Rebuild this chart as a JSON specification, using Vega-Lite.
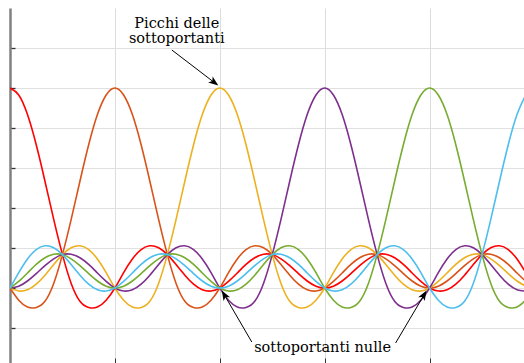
{
  "$schema": "https://vega.github.io/schema/vega-lite/v6.json",
  "width": 514,
  "height": 355,
  "autosize": {"type": "none"},
  "padding": {"left": 10, "top": 8, "right": 0, "bottom": 0},
  "background": "white",
  "config": {"view": {"stroke": null}},
  "datasets": {
    "curves": [
      {"u":0,"s0":1,"s1":0,"s2":0,"s3":0,"s4":0,"s5":0},
      {"u":0.0833,"s0":0.965,"s1":-0.061,"s2":-0.015,"s3":0.009,"s4":0.033,"s5":0.077},
      {"u":0.1667,"s0":0.867,"s1":-0.095,"s2":-0.009,"s3":0.035,"s4":0.075,"s5":0.145},
      {"u":0.25,"s0":0.716,"s1":-0.097,"s2":0.019,"s3":0.072,"s4":0.118,"s5":0.192},
      {"u":0.3333,"s0":0.534,"s1":-0.066,"s2":0.064,"s3":0.112,"s4":0.151,"s5":0.211},
      {"u":0.4167,"s0":0.343,"s1":0.023,"s2":0.117,"s3":0.146,"s4":0.169,"s5":0.201},
      {"u":0.5,"s0":0.167,"s1":0.167,"s2":0.167,"s3":0.167,"s4":0.167,"s5":0.167},
      {"u":0.5833,"s0":0.023,"s1":0.343,"s2":0.201,"s3":0.169,"s4":0.146,"s5":0.117},
      {"u":0.6667,"s0":-0.066,"s1":0.534,"s2":0.211,"s3":0.151,"s4":0.112,"s5":0.064},
      {"u":0.75,"s0":-0.097,"s1":0.716,"s2":0.192,"s3":0.118,"s4":0.072,"s5":0.019},
      {"u":0.8333,"s0":-0.095,"s1":0.867,"s2":0.145,"s3":0.075,"s4":0.035,"s5":-0.009},
      {"u":0.9167,"s0":-0.061,"s1":0.965,"s2":0.077,"s3":0.033,"s4":0.009,"s5":-0.015},
      {"u":1,"s0":0,"s1":1,"s2":0,"s3":0,"s4":0,"s5":0},
      {"u":1.0833,"s0":0.077,"s1":0.965,"s2":-0.061,"s3":-0.015,"s4":0.009,"s5":0.033},
      {"u":1.1667,"s0":0.145,"s1":0.867,"s2":-0.095,"s3":-0.009,"s4":0.035,"s5":0.075},
      {"u":1.25,"s0":0.192,"s1":0.716,"s2":-0.097,"s3":0.019,"s4":0.072,"s5":0.118},
      {"u":1.3333,"s0":0.211,"s1":0.534,"s2":-0.066,"s3":0.064,"s4":0.112,"s5":0.151},
      {"u":1.4167,"s0":0.201,"s1":0.343,"s2":0.023,"s3":0.117,"s4":0.146,"s5":0.169},
      {"u":1.5,"s0":0.167,"s1":0.167,"s2":0.167,"s3":0.167,"s4":0.167,"s5":0.167},
      {"u":1.5833,"s0":0.117,"s1":0.023,"s2":0.343,"s3":0.201,"s4":0.169,"s5":0.146},
      {"u":1.6667,"s0":0.064,"s1":-0.066,"s2":0.534,"s3":0.211,"s4":0.151,"s5":0.112},
      {"u":1.75,"s0":0.019,"s1":-0.097,"s2":0.716,"s3":0.192,"s4":0.118,"s5":0.072},
      {"u":1.8333,"s0":-0.009,"s1":-0.095,"s2":0.867,"s3":0.145,"s4":0.075,"s5":0.035},
      {"u":1.9167,"s0":-0.015,"s1":-0.061,"s2":0.965,"s3":0.077,"s4":0.033,"s5":0.009},
      {"u":2,"s0":0,"s1":0,"s2":1,"s3":0,"s4":0,"s5":0},
      {"u":2.0833,"s0":0.033,"s1":0.077,"s2":0.965,"s3":-0.061,"s4":-0.015,"s5":0.009},
      {"u":2.1667,"s0":0.075,"s1":0.145,"s2":0.867,"s3":-0.095,"s4":-0.009,"s5":0.035},
      {"u":2.25,"s0":0.118,"s1":0.192,"s2":0.716,"s3":-0.097,"s4":0.019,"s5":0.072},
      {"u":2.3333,"s0":0.151,"s1":0.211,"s2":0.534,"s3":-0.066,"s4":0.064,"s5":0.112},
      {"u":2.4167,"s0":0.169,"s1":0.201,"s2":0.343,"s3":0.023,"s4":0.117,"s5":0.146},
      {"u":2.5,"s0":0.167,"s1":0.167,"s2":0.167,"s3":0.167,"s4":0.167,"s5":0.167},
      {"u":2.5833,"s0":0.146,"s1":0.117,"s2":0.023,"s3":0.343,"s4":0.201,"s5":0.169},
      {"u":2.6667,"s0":0.112,"s1":0.064,"s2":-0.066,"s3":0.534,"s4":0.211,"s5":0.151},
      {"u":2.75,"s0":0.072,"s1":0.019,"s2":-0.097,"s3":0.716,"s4":0.192,"s5":0.118},
      {"u":2.8333,"s0":0.035,"s1":-0.009,"s2":-0.095,"s3":0.867,"s4":0.145,"s5":0.075},
      {"u":2.9167,"s0":0.009,"s1":-0.015,"s2":-0.061,"s3":0.965,"s4":0.077,"s5":0.033},
      {"u":3,"s0":0,"s1":0,"s2":0,"s3":1,"s4":0,"s5":0},
      {"u":3.0833,"s0":0.009,"s1":0.033,"s2":0.077,"s3":0.965,"s4":-0.061,"s5":-0.015},
      {"u":3.1667,"s0":0.035,"s1":0.075,"s2":0.145,"s3":0.867,"s4":-0.095,"s5":-0.009},
      {"u":3.25,"s0":0.072,"s1":0.118,"s2":0.192,"s3":0.716,"s4":-0.097,"s5":0.019},
      {"u":3.3333,"s0":0.112,"s1":0.151,"s2":0.211,"s3":0.534,"s4":-0.066,"s5":0.064},
      {"u":3.4167,"s0":0.146,"s1":0.169,"s2":0.201,"s3":0.343,"s4":0.023,"s5":0.117},
      {"u":3.5,"s0":0.167,"s1":0.167,"s2":0.167,"s3":0.167,"s4":0.167,"s5":0.167},
      {"u":3.5833,"s0":0.169,"s1":0.146,"s2":0.117,"s3":0.023,"s4":0.343,"s5":0.201},
      {"u":3.6667,"s0":0.151,"s1":0.112,"s2":0.064,"s3":-0.066,"s4":0.534,"s5":0.211},
      {"u":3.75,"s0":0.118,"s1":0.072,"s2":0.019,"s3":-0.097,"s4":0.716,"s5":0.192},
      {"u":3.8333,"s0":0.075,"s1":0.035,"s2":-0.009,"s3":-0.095,"s4":0.867,"s5":0.145},
      {"u":3.9167,"s0":0.033,"s1":0.009,"s2":-0.015,"s3":-0.061,"s4":0.965,"s5":0.077},
      {"u":4,"s0":0,"s1":0,"s2":0,"s3":0,"s4":1,"s5":0},
      {"u":4.0833,"s0":-0.015,"s1":0.009,"s2":0.033,"s3":0.077,"s4":0.965,"s5":-0.061},
      {"u":4.1667,"s0":-0.009,"s1":0.035,"s2":0.075,"s3":0.145,"s4":0.867,"s5":-0.095},
      {"u":4.25,"s0":0.019,"s1":0.072,"s2":0.118,"s3":0.192,"s4":0.716,"s5":-0.097},
      {"u":4.3333,"s0":0.064,"s1":0.112,"s2":0.151,"s3":0.211,"s4":0.534,"s5":-0.066},
      {"u":4.4167,"s0":0.117,"s1":0.146,"s2":0.169,"s3":0.201,"s4":0.343,"s5":0.023},
      {"u":4.5,"s0":0.167,"s1":0.167,"s2":0.167,"s3":0.167,"s4":0.167,"s5":0.167},
      {"u":4.5833,"s0":0.201,"s1":0.169,"s2":0.146,"s3":0.117,"s4":0.023,"s5":0.343},
      {"u":4.6667,"s0":0.211,"s1":0.151,"s2":0.112,"s3":0.064,"s4":-0.066,"s5":0.534},
      {"u":4.75,"s0":0.192,"s1":0.118,"s2":0.072,"s3":0.019,"s4":-0.097,"s5":0.716},
      {"u":4.8333,"s0":0.145,"s1":0.075,"s2":0.035,"s3":-0.009,"s4":-0.095,"s5":0.867},
      {"u":4.9167,"s0":0.077,"s1":0.033,"s2":0.009,"s3":-0.015,"s4":-0.061,"s5":0.965}
    ],
    "arrows": [
      {"x1":1.543,"y1":1.19,"x2":1.948,"y2":1.0275},
      {"x1":2.305,"y1":-0.27,"x2":2.043,"y2":-0.034},
      {"x1":3.676,"y1":-0.275,"x2":3.948,"y2":-0.034}
    ],
    "heads": [
      {"x":1.986,"y":1.0125,"ang":127.4},
      {"x":2.019,"y":-0.0125,"ang":329.8},
      {"x":3.971,"y":-0.0125,"ang":30.6}
    ],
    "labels": [
      {"x":1.59,"y":1.3,"t":"Picchi delle"},
      {"x":1.59,"y":1.225,"t":"sottoportanti"},
      {"x":2.98,"y":-0.3185,"t":"sottoportanti nulle"}
    ]
  },
  "layer": [
    {
      "data": {"name": "curves"},
      "transform": [{"fold": ["s0","s1","s2","s3","s4","s5"], "as": ["sub","val"]}],
      "mark": {"type": "line", "strokeWidth": 1.6, "interpolate": "natural", "clip": true},
      "encoding": {
        "x": {"field": "u", "type": "quantitative",
          "scale": {"domain": [0, 4.9], "nice": false, "zero": false},
          "axis": {"values": [1,2,3,4], "grid": true, "gridColor": "#dcdcdc", "gridWidth": 1,
                   "domain": false, "labels": false, "title": null, "ticks": true,
                   "tickSize": -5, "tickColor": "#333333", "tickWidth": 1}},
        "y": {"field": "val", "type": "quantitative",
          "scale": {"domain": [-0.375, 1.4], "nice": false, "zero": false},
          "axis": {"values": [-0.2,0,0.2,0.4,0.6,0.8,1,1.2], "grid": true, "gridColor": "#e0e0e0", "gridWidth": 1.2,
                   "domain": true, "domainColor": "#808080", "domainWidth": 2.5,
                   "labels": false, "title": null, "ticks": true,
                   "tickSize": -5, "tickColor": "#333333", "tickWidth": 1.3}},
        "color": {"field": "sub", "type": "nominal",
          "scale": {"domain": ["s0","s1","s2","s3","s4","s5"],
                    "range": ["#ff0000","#d95319","#edb120","#7e2f8e","#77ac30","#4dbeee"]},
          "legend": null}
      }
    },
    {
      "data": {"name": "arrows"},
      "mark": {"type": "rule", "color": "black", "strokeWidth": 1},
      "encoding": {
        "x": {"field": "x1", "type": "quantitative", "scale": {"domain": [0, 4.9], "nice": false, "zero": false}},
        "y": {"field": "y1", "type": "quantitative", "scale": {"domain": [-0.375, 1.4], "nice": false, "zero": false}},
        "x2": {"field": "x2"},
        "y2": {"field": "y2"}
      }
    },
    {
      "data": {"name": "heads"},
      "mark": {"type": "point", "shape": "M0,0 L-0.75,2 L0,1.5 L0.75,2 Z", "filled": true, "color": "black", "opacity": 1, "size": 100, "strokeWidth": 0},
      "encoding": {
        "x": {"field": "x", "type": "quantitative", "scale": {"domain": [0, 4.9], "nice": false, "zero": false}},
        "y": {"field": "y", "type": "quantitative", "scale": {"domain": [-0.375, 1.4], "nice": false, "zero": false}},
        "angle": {"field": "ang", "type": "quantitative", "scale": null}
      }
    },
    {
      "data": {"name": "labels"},
      "mark": {"type": "text", "font": "DejaVu Serif", "fontSize": 14.5, "align": "center", "baseline": "alphabetic", "color": "black"},
      "encoding": {
        "x": {"field": "x", "type": "quantitative", "scale": {"domain": [0, 4.9], "nice": false, "zero": false}},
        "y": {"field": "y", "type": "quantitative", "scale": {"domain": [-0.375, 1.4], "nice": false, "zero": false}},
        "text": {"field": "t"}
      }
    }
  ]
}
